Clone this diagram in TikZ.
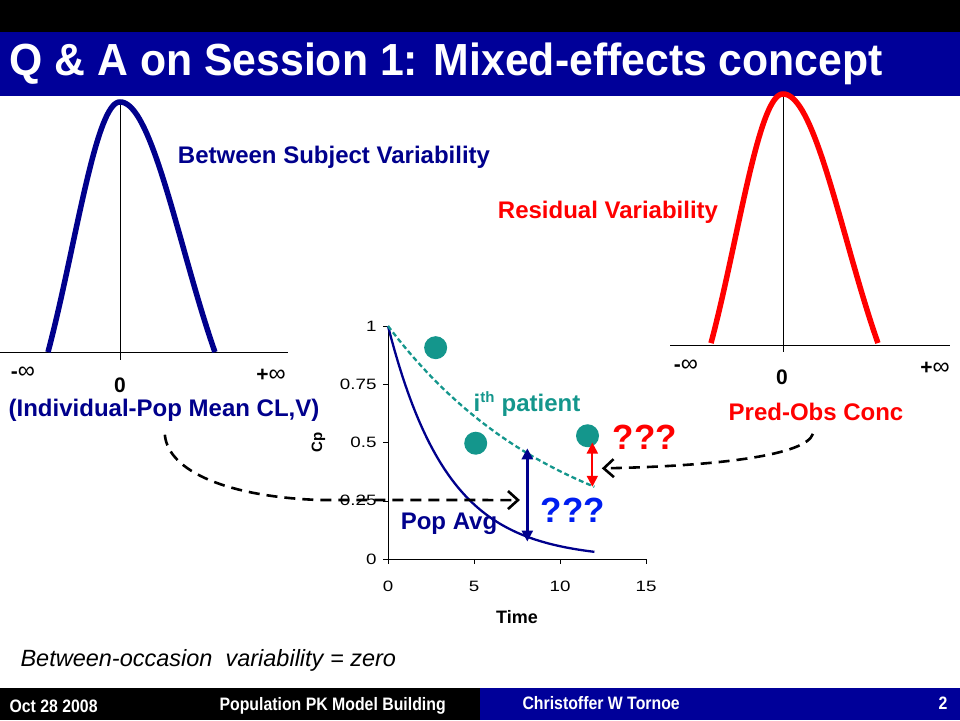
\documentclass[tikz,border=0pt]{standalone}
\usepackage{fontspec}
\setmainfont{Liberation Sans}
\newfontfamily\titlefont{Liberation Sans}[FakeStretch=0.95]
\newfontfamily\footfont{Liberation Sans}[FakeStretch=0.88]
\newfontfamily\tickfont{Liberation Sans}[FakeStretch=1.25]
\usetikzlibrary{arrows.meta,positioning,calc}
\definecolor{slideblue}{RGB}{0,0,153}
\definecolor{navy}{RGB}{0,0,140}
\definecolor{ptteal}{RGB}{20,150,140}
\definecolor{qblue}{RGB}{0,30,240}

\begin{document}
\begin{tikzpicture}[x=1pt, y=-1pt,
    lbl/.style={font=\fontsize{24}{28}\selectfont\bfseries},
    inf/.style={font=\fontsize{21}{24}\selectfont\bfseries},
    tick/.style={font=\tickfont\fontsize{15}{17}\selectfont},
    bell/.style={line width=5.5pt, line join=round},
    dasharrow/.style={black, line width=2.6pt, dash pattern=on 11pt off 7pt,
        -{Straight Barb[length=10pt,width=18pt]}},
    gaparrow/.style={line width=2.6pt,
        {Triangle[length=11pt,width=11pt]}-{Triangle[length=11pt,width=11pt]}},
    dot/.style={circle, fill=ptteal, minimum size=23pt, inner sep=0pt}]
    \useasboundingbox (0,0) rectangle (960,720);

    % Title bar
    \fill[black] (0,0) rectangle (960,32);
    \fill[slideblue] (0,32) rectangle (960,96);
    \node[anchor=west, text=white, font=\titlefont\fontsize{45}{50}\selectfont\bfseries]
        (title) at (6,64) {Q \& A on Session 1: Mixed-effects concept};

    % Between subject bell
    \draw (0,352) -- (288,352);
    \draw (120,102) -- (120,360);
    \draw[navy, bell] plot[domain=-1.5:0, samples=40] ({120+48*\x}, {352-250*(exp(-0.5*\x*\x)-0.325)/0.675})
        -- plot[domain=0:1.5, samples=40] ({120+63.3*\x}, {352-250*(exp(-0.5*\x*\x)-0.325)/0.675});
    \node[inf] (lminus) at (23,373) {-{\mdseries\fontsize{24}{24}\selectfont ∞}};
    \node[inf] (lzero) at (120,385) {0};
    \node[inf] (lplus) at (271,375) {+{\mdseries\fontsize{24}{24}\selectfont ∞}};
    \node[lbl, navy] (bsv) at (334,157) {Between Subject Variability};
    \node[lbl, navy] (indiv) at (164,410) {(Individual-Pop Mean CL,V)};

    % Residual bell
    \draw (670,345) -- (950,345);
    \draw (783,94) -- (783,352);
    \draw[red, bell] plot[domain=-1.5:0, samples=40] ({783+48*\x}, {343-249*(exp(-0.5*\x*\x)-0.325)/0.675})
        -- plot[domain=0:1.5, samples=40] ({783+63.3*\x}, {343-249*(exp(-0.5*\x*\x)-0.325)/0.675});
    \node[inf] (rminus) at (686,366) {-{\mdseries\fontsize{24}{24}\selectfont ∞}};
    \node[inf] (rzero) at (782,377) {0};
    \node[inf] (rplus) at (935,368) {+{\mdseries\fontsize{24}{24}\selectfont ∞}};
    \node[lbl, red] (rv) at (608,212) {Residual Variability};
    \node[lbl, red] (predobs) at (816,412) {Pred-Obs Conc};

    % Concentration-time chart
    \begin{scope}[shift={(388,559)}, x=17.2pt, y=233pt]
        \draw (0,0) -- (0,1);
        \draw (0,0) -- (15,0);
        \foreach \v [count=\i] in {0,0.25,0.5,0.75,1} {
            \draw (0,\v) -- ++(-5pt,0);
            \node[tick, anchor=east, xshift=-8pt] (ylab\i) at (0,\v) {\v};
        }
        \foreach \t [count=\i] in {0,5,10,15} {
            \draw (\t,0) -- ++(0,-5pt);
            \node[tick, yshift=-27pt] (xlab\i) at (\t,0) {\t};
        }
        \node[font=\fontsize{18}{20}\selectfont\bfseries, yshift=-58pt] (timelab) at (7.5,0) {Time};
        \node[font=\fontsize{15}{18}\selectfont\bfseries, rotate=90] (cplab) at (-4.05,0.5) {Cp};

        \draw[navy, line width=2.3pt] plot[domain=0:12, samples=60] (\x, {exp(-0.29*\x)});
        \draw[ptteal, line width=2.3pt, dash pattern=on 5pt off 3pt]
            plot[domain=0:12, samples=60] (\x, {exp(-0.0976*\x)});

        \node[dot] (obs1) at (2.77,0.907) {};
        \node[dot] (obs2) at (5.1,0.497) {};
        \node[dot] (obs3) at (11.6,0.529) {};

        \coordinate (ppop) at (8.1,0.075);
        \coordinate (pind) at (8.1,0.475);
        \coordinate (ipred) at (11.88,0.31);
        \coordinate (robs) at (11.88,0.50);
        \coordinate (bsvend) at (7.67,0.253);
        \coordinate (rvend) at (12.43,0.389);
    \end{scope}

    \draw[navy, gaparrow] (ppop) -- (pind);
    \draw[red, gaparrow, line width=2pt] (robs) -- (ipred);

    \node[lbl, ptteal] (ipat) at (527,404) {i\textsuperscript{\fontsize{15}{15}\selectfont th} patient};
    \node[lbl, navy] (popavg) at (449,524) {Pop Avg};
    \node[font=\fontsize{35}{40}\selectfont\bfseries, text=qblue] (qbsv) at (573,510) {???};
    \node[font=\fontsize{35}{40}\selectfont\bfseries, text=red] (qrv) at (645,437) {???};

    % Dashed links
    \draw[dasharrow, shorten <=10pt] (indiv.south) .. controls (168,472) and (230,497) .. (320,500) -- (bsvend);
    \draw[dasharrow, shorten <=10pt] (predobs.south) .. controls (806,455) and (720,466) .. (rvend);

    \node[anchor=west, font=\fontsize{23.5}{26}\selectfont\itshape] (boc) at (17,660)
        {Between-occasion\ \ variability = zero};

    % Footer
    \fill[black] (0,688) rectangle (480,720);
    \fill[slideblue] (480,688) rectangle (960,720);
    \node[anchor=west, text=white, font=\footfont\fontsize{18}{20}\selectfont\bfseries] (date) at (6,706) {Oct 28 2008};
    \node[anchor=west, text=white, font=\footfont\fontsize{18}{20}\selectfont\bfseries] (course) at (216,706) {Population PK Model Building};
    \node[anchor=west, text=white, font=\footfont\fontsize{18}{20}\selectfont\bfseries] (author) at (519,703) {Christoffer W Tornoe};
    \node[anchor=east, text=white, font=\footfont\fontsize{18}{20}\selectfont\bfseries] (pageno) at (951,703) {2};
\end{tikzpicture}
\end{document}
